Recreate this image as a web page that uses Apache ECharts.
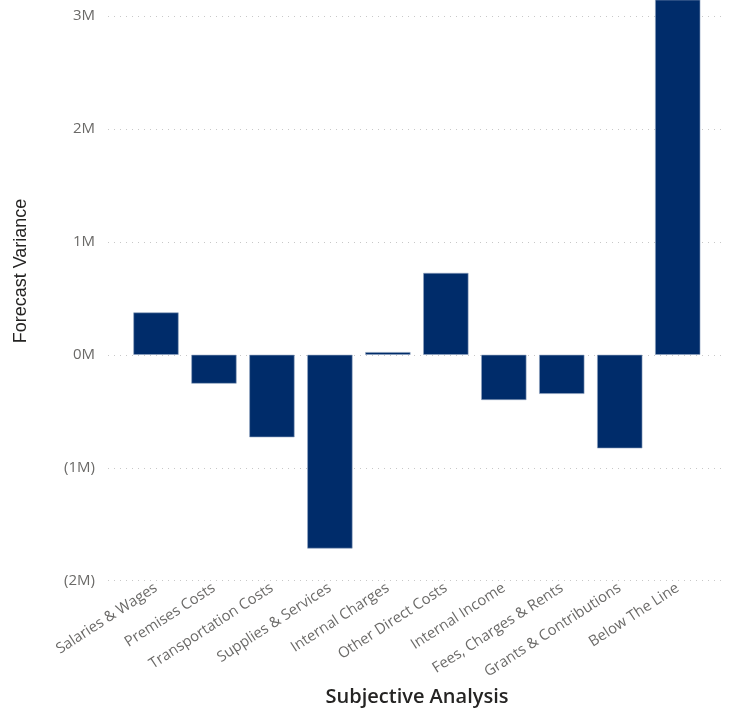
<!DOCTYPE html>
<html>
<head>
<meta charset="utf-8">
<script src="https://cdn.jsdelivr.net/npm/echarts@6/dist/echarts.min.js"></script>
<style>html,body{margin:0;padding:0;background:#fff;}#c{width:731px;height:715px;}</style>
</head>
<body>
<div id="c"></div>
<script>
const categories = ["Salaries & Wages","Premises Costs","Transportation Costs","Supplies & Services","Internal Charges","Other Direct Costs","Internal Income","Fees, Charges & Rents","Grants & Contributions","Below The Line"];
const forecastVariance = [375000,-255000,-730000,-1715000,24000,725000,-400000,-346000,-828000,3400000];
const yTicks = [-2000000,-1000000,0,1000000,2000000,3000000];
const xTitle = "Subjective Analysis";
const yTitle = "Forecast Variance";

function fmt(v){
  if (v === 0) return "0M";
  const m = Math.abs(v)/1e6;
  return v < 0 ? "(" + m + "M)" : m + "M";
}

const chart = echarts.init(document.getElementById('c'), null, {renderer:'canvas'});
const FONT = "'Open Sans', 'Noto Sans', sans-serif";
const pxPerUnit = (580.7 - 16) / (yTicks[yTicks.length-1] - yTicks[0]);
const barMax = yTicks[yTicks.length-1] + 16 / pxPerUnit;

chart.setOption({
  animation:false,
  backgroundColor:'#ffffff',
  grid:[
    {left:108, right:6, top:16, bottom:134.3},
    {left:127, right:24.3, top:0, bottom:134.3}
  ],
  xAxis:[
    {gridIndex:0, type:'category', data:categories, show:false},
    {gridIndex:1, type:'category', data:categories,
      axisLine:{show:false}, axisTick:{show:false},
      axisLabel:{rotate:33, color:'#6B6A68', fontSize:14.8, fontFamily:FONT, margin:6, interval:0}}
  ],
  yAxis:[
    {gridIndex:0, type:'value', min:yTicks[0], max:yTicks[yTicks.length-1], interval:1000000,
      axisLine:{show:false}, axisTick:{show:false},
      axisLabel:{formatter:fmt, color:'#6B6A68', fontSize:15, fontFamily:FONT, margin:13},
      splitLine:{show:true, lineStyle:{color:'#C8C8C8', type:[1,5], width:1}}},
    {gridIndex:1, type:'value', min:yTicks[0], max:barMax, show:false, splitLine:{show:false}}
  ],
  graphic:[
    {type:'text', x:21, y:271, rotation:Math.PI/2,
      style:{text:yTitle, fill:'#252423', font:"18px 'Liberation Sans', Arial, sans-serif", textAlign:'center', textVerticalAlign:'middle'}},
    {type:'text', x:417, y:697,
      style:{text:xTitle, fill:'#252423', font:"600 20px " + FONT, textAlign:'center', textVerticalAlign:'middle'}}
  ],
  series:[
    {type:'bar', xAxisIndex:1, yAxisIndex:1, data:forecastVariance, barCategoryGap:'22%',
      itemStyle:{color:'#002C6A', borderColor:'#8FA3C0', borderWidth:0.6}, clip:true}
  ]
});
</script>
</body>
</html>
